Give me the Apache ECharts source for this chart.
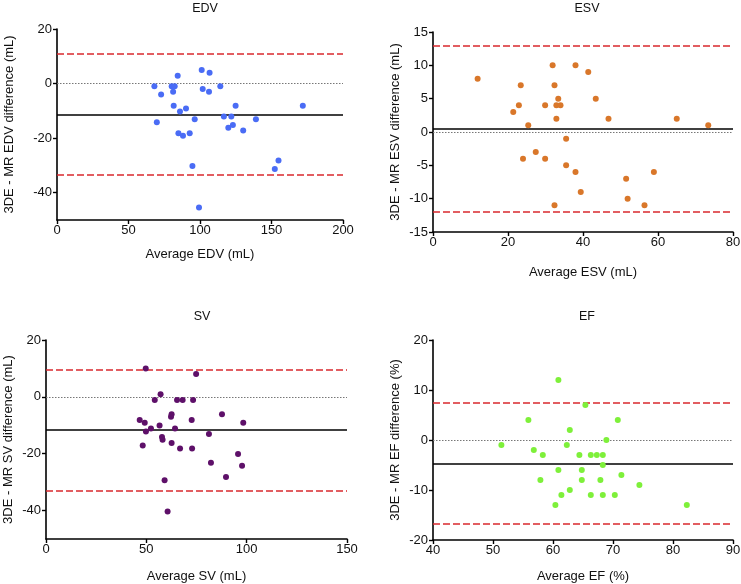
<!DOCTYPE html>
<html>
<head>
<meta charset="utf-8">
<script src="https://cdn.jsdelivr.net/npm/echarts@6/dist/echarts.min.js"></script>
<style>html,body{margin:0;padding:0;background:#fff}#c{width:741px;height:584px}</style>
</head>
<body>
<div id="c"></div>
<script>
// ---- Data ----
var panelTitles = ['EDV', 'ESV', 'SV', 'EF'];
var xTitles = ['Average EDV (mL)', 'Average ESV (mL)', 'Average SV (mL)', 'Average EF (%)'];
var yTitles = ['3DE - MR EDV difference (mL)', '3DE - MR ESV difference (mL)', '3DE - MR SV difference (mL)', '3DE - MR EF difference (%)'];

var edvX = [68.1, 69.8, 72.8, 80.2, 81.2, 82.3, 81.6, 84.4, 84.9, 86.0, 88.1, 90.2, 92.8, 94.7, 96.3, 99.3, 101.2, 101.9, 106.3, 106.7, 114.2, 116.7, 119.8, 121.9, 123.0, 124.9, 130.2, 139.1, 152.3, 154.9, 171.9];
var edvY = [-1, -14.2, -4, -1, -3, -1, -8.1, 2.9, -18.2, -10.2, -19.1, -9.1, -18.2, -30.2, -13.1, -45.4, 5, -2, -3, 4, -1, -12.1, -16.2, -12.1, -15.2, -8.1, -17.2, -13.1, -31.3, -28.2, -8.1];

var esvX = [11.9, 21.4, 22.9, 23.4, 24.0, 25.4, 27.4, 29.9, 29.9, 31.9, 32.4, 32.4, 32.9, 32.9, 33.4, 34.0, 35.5, 35.5, 38.0, 38.0, 39.4, 41.4, 43.4, 46.8, 51.5, 51.9, 56.4, 58.9, 65.0, 73.4];
var esvY = [8, 3, 4, 7, -4, 1, -3, 4, -4, 10, 7, -11, 4, 2, 5, 4, -1, -5, 10, -6, -9, 9, 5, 2, -7, -10, -11, -6, 2, 1];

var svX = [46.7, 48.2, 49.2, 49.7, 49.8, 52.3, 54.2, 56.6, 57.1, 57.8, 58.1, 59.1, 60.6, 62.3, 62.6, 62.6, 64.3, 65.3, 66.8, 68.1, 72.6, 72.8, 73.3, 74.8, 81.2, 82.2, 87.7, 89.7, 95.7, 97.7, 98.3];
var svY = [-8.1, -17.1, -9.1, 10, -12.2, -11.1, -1.1, -10.1, 0.9, -14.1, -15.1, -29.3, -40.3, -7, -6.1, -16.2, -11.1, -1.1, -18.2, -1.1, -8.1, -18.2, -1.1, 8, -13.1, -23.2, -6.1, -28.2, -20.1, -24.2, -9.1];

var efX = [51.4, 55.9, 56.8, 57.9, 58.3, 60.4, 60.9, 60.9, 61.4, 62.3, 62.8, 62.8, 64.4, 64.8, 64.8, 65.4, 66.3, 66.3, 67.3, 67.9, 68.3, 68.3, 68.3, 68.9, 70.3, 70.8, 71.4, 74.4, 82.3];
var efY = [-1, 4, -2, -8, -3, -13, 12, -6, -11, -1, 2, -10, -3, -6, -8, 7, -3, -11, -3, -8, -3, -5, -11, 0, -11, 4, -7, -9, -13];

var meanDiff = [-11.35, 0.55, -11.7, -4.7];
var upperLoA = [10.8, 13.0, 9.5, 7.4];
var lowerLoA = [-33.5, -11.9, -32.9, -16.8];

var xMin = [0, 0, 0, 40], xMax = [200, 80, 150, 90], xStep = [50, 20, 50, 10];
var yMin = [-50, -15, -50, -20], yMax = [20, 15, 20, 20], yStep = [10, 5, 10, 10];
var yTickValues = [[20, 0, -20, -40], [15, 10, 5, 0, -5, -10, -15], [20, 0, -20, -40], [20, 10, 0, -10, -20]];

var colors = ['#4a6cf5', '#d9772a', '#5e1069', '#7ef03a'];
var xs = [edvX, esvX, svX, efX];
var ys = [edvY, esvY, svY, efY];

// ---- Layout ----
var grids = [
  {left: 57, top: 29, width: 286, height: 191},
  {left: 433, top: 32, width: 300, height: 200},
  {left: 46, top: 340, width: 301, height: 199},
  {left: 433, top: 340, width: 300, height: 200}
];
var titlePos = [[200, -3], [582, -3], [197, 305], [582, 305]];
var xNameGap = [28, 34, 31, 30];
var yNameGap = [41, 31, 31, 31];

var font = 'Liberation Sans, Arial, sans-serif';
var option = {
  animation: false,
  backgroundColor: '#fff',
  textStyle: {fontFamily: font},
  title: [], grid: [], xAxis: [], yAxis: [], series: []
};

for (var i = 0; i < 4; i++) {
  option.title.push({
    text: panelTitles[i], left: titlePos[i][0], top: titlePos[i][1], textAlign: 'center',
    textStyle: {fontSize: 12.5, fontWeight: 'normal', color: '#111', fontFamily: font}
  });
  option.grid.push(Object.assign({containLabel: false, outerBoundsMode: 'none'}, grids[i]));
  option.xAxis.push({
    type: 'value', gridIndex: i, min: xMin[i], max: xMax[i], interval: xStep[i],
    name: xTitles[i], nameLocation: 'middle', nameGap: xNameGap[i],
    nameTextStyle: {fontSize: 13, color: '#111', fontFamily: font, verticalAlign: 'top'},
    splitLine: {show: false},
    axisLine: {onZero: false, lineStyle: {color: '#000', width: 1.6}},
    axisTick: {length: 4, lineStyle: {color: '#000', width: 1.4}},
    axisLabel: {fontSize: 13, color: '#111', margin: 4, fontFamily: font}
  });
  option.yAxis.push({
    type: 'value', gridIndex: i, min: yMin[i], max: yMax[i], interval: yStep[i],
    name: yTitles[i], nameLocation: 'middle', nameGap: yNameGap[i], nameRotate: 90,
    nameTextStyle: {fontSize: 13, color: '#111', fontFamily: font},
    splitLine: {show: false},
    axisLine: {onZero: false, lineStyle: {color: '#000', width: 1.6}},
    axisTick: {length: 4, customValues: yTickValues[i], lineStyle: {color: '#000', width: 1.4}},
    axisLabel: {fontSize: 13, color: '#111', margin: 5, customValues: yTickValues[i], fontFamily: font}
  });
  var pts = xs[i].map(function (x, k) { return [x, ys[i][k]]; });
  option.series.push({
    type: 'scatter', xAxisIndex: i, yAxisIndex: i, data: pts, symbolSize: 6,
    itemStyle: {color: colors[i], opacity: 1}, z: 3,
    markLine: {
      silent: true, symbol: ['none', 'none'], label: {show: false}, z: 2,
      data: [
        {yAxis: 0, lineStyle: {color: '#777', width: 1, type: [1.5, 1.5]}},
        {yAxis: meanDiff[i], lineStyle: {color: '#000', width: 1.6, type: 'solid'}},
        {yAxis: upperLoA[i], lineStyle: {color: '#d9292e', width: 1.6, type: [7, 3]}},
        {yAxis: lowerLoA[i], lineStyle: {color: '#d9292e', width: 1.6, type: [7, 3]}}
      ]
    }
  });
}

var chart = echarts.init(document.getElementById('c'), null, {renderer: 'canvas'});
chart.setOption(option);
</script>
</body>
</html>
